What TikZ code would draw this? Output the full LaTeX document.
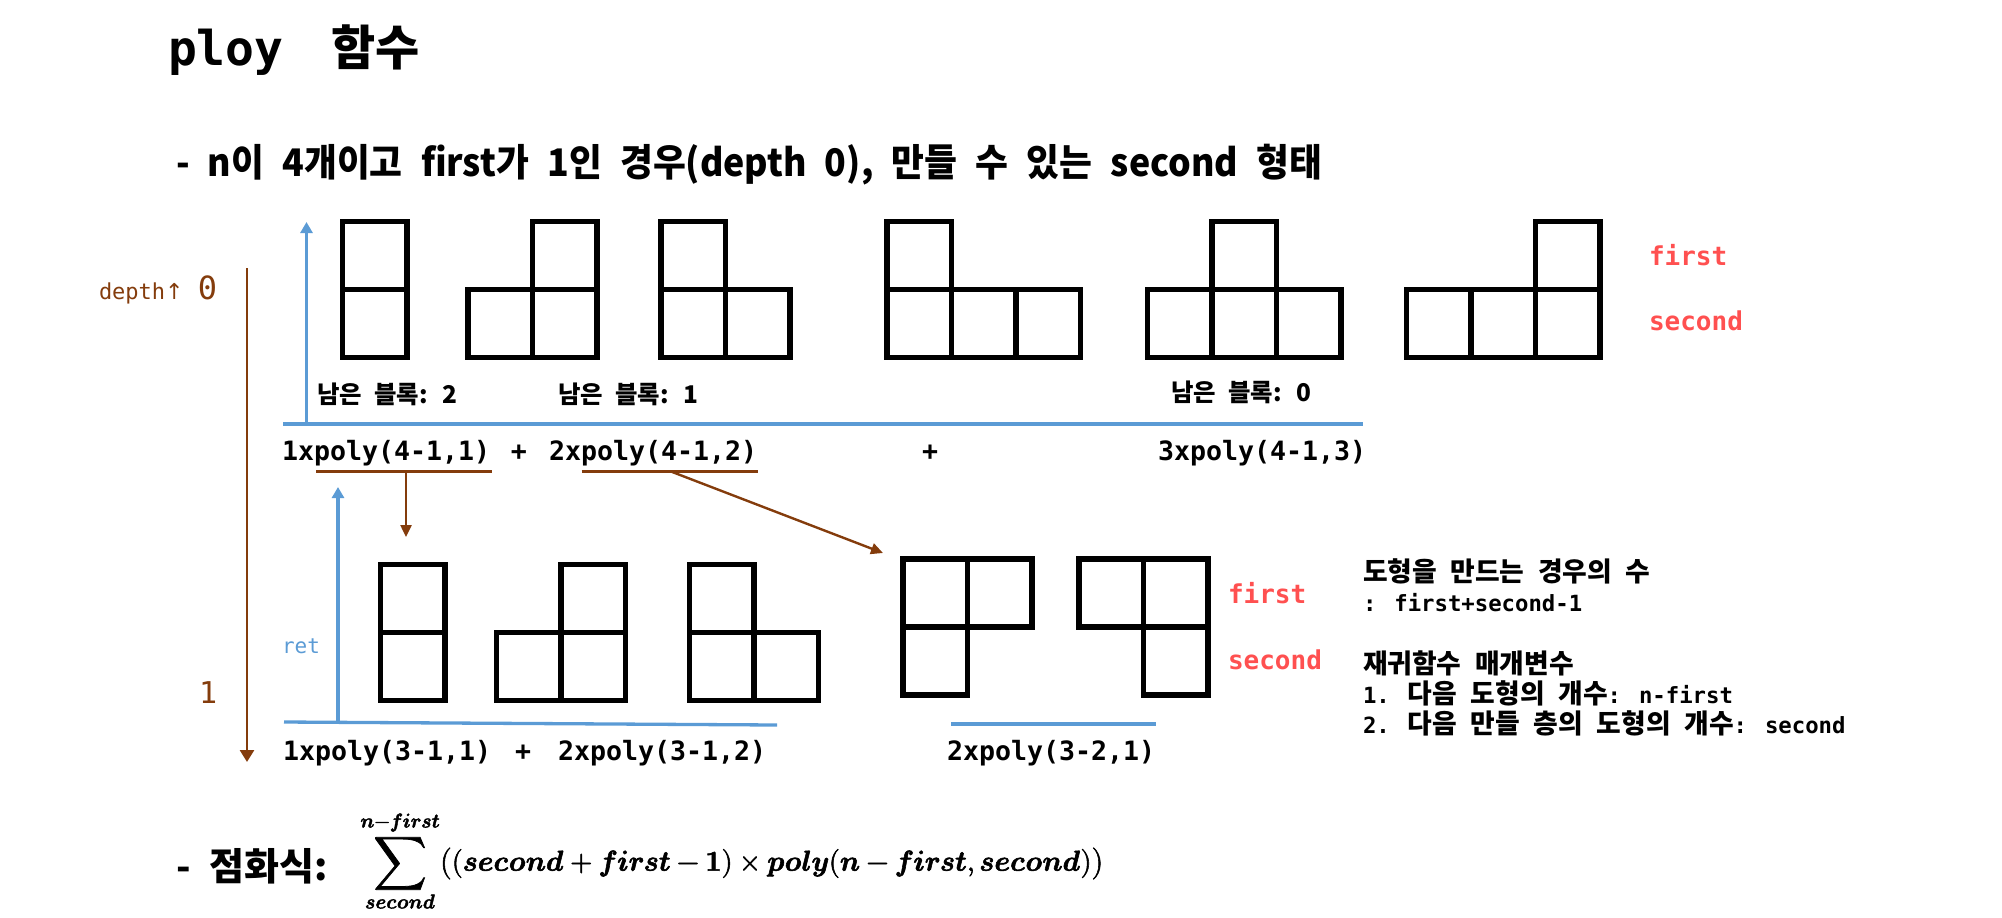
\documentclass[tikz,border=0pt]{standalone}
\usepackage{fontspec}
\usepackage{amsmath}
\usepackage{graphicx}
\usepackage{unicode-math}
\setmathfont{Latin Modern Math}[FakeBold=2]
\usetikzlibrary{arrows.meta}
\setmainfont{DejaVu Sans}
\newfontfamily\kr{Noto Sans CJK KR}
\newfontfamily\krm{Noto Sans CJK KR}[WordSpace=2.23]
\newfontfamily\mono{DejaVu Sans Mono}
\definecolor{brownc}{HTML}{843C0C}
\definecolor{bluec}{HTML}{5B9BD5}
\definecolor{redc}{HTML}{FF5050}
\newcommand{\fsz}[1]{\fontsize{#1}{#1}\selectfont}
\newcommand{\bi}[1]{\symbfit{#1}}
\newsavebox{\recbox}
\begin{document}
\sbox{\recbox}{\fsz{14.4}\scalebox{0.985}[1]{$\displaystyle
  \mathop{\vcenter{\hbox{\scalebox{1.3}{$\displaystyle\sum$}}}}\limits_{\bi{second}}^{\bi{n}-\bi{first}}
  \bigl((\bi{second}+\bi{first}-\symbf{1})\times\bi{poly}(\bi{n}-\bi{first},\bi{second})\bigr)$}}%
\begin{tikzpicture}[x=0.5pt,y=-0.5pt,
  txt/.style={inner sep=0pt, outer sep=0pt, anchor=base west},
  txtc/.style={inner sep=0pt, outer sep=0pt, anchor=base},
  cell/.style={draw=black, line width=2.75pt, minimum width=32.25pt, minimum height=34pt, inner sep=0pt, outer sep=0pt},
  blueline/.style={draw=bluec, line width=1.65pt},
  bluearrow/.style={draw=bluec, line width=1.65pt, -{Triangle[length=5.5pt,width=6pt]}},
  brownline/.style={draw=brownc, line width=1.5pt},
  depthtip/.style={draw=brownc, line width=1.35pt, -{Triangle[length=6pt,width=7pt]}},
  brownarrow/.style={draw=brownc, line width=1.2pt, -{Triangle[length=6pt,width=5.5pt]}},
  redlab/.style={txt, text=redc, font=\fsz{13}\mono\bfseries},
  poly/.style={txt, font=\fsz{13.3}\mono\bfseries},
  polyc/.style={txtc, font=\fsz{13.3}\mono\bfseries},
  remain/.style={txt, font=\fsz{12.2}\kr\bfseries},
]
\useasboundingbox (0,0) rectangle (2002,917);

% ---------- titles ----------
\node[txt] (title) at (168,65) {\fsz{24}\mono\bfseries ploy\hspace{24pt}{\kr\bfseries 함수}};
\node[txt] (sub) at (176,176) {\scalebox{0.94}[1]{\fsz{19}\kr\bfseries - n이 4개이고 first가 1인 경우(depth 0), 만들 수 있는 second 형태}};

% ---------- depth axis ----------
\node[txt, text=brownc] (depth0) at (99,299) {\fsz{11}\mono depth{\rmfamily ↑} \hspace{0.5pt}{\fsz{16}0}};
\node[txt, text=brownc] (depth1) at (199,703) {\fsz{15}\mono 1};
\coordinate (dtop) at (247,268);
\coordinate (dbot) at (247,762);
\draw[depthtip] (dtop) -- (dbot);

% ---------- row 0 shapes ----------
\node[cell] (a1t) at (374.75,255.7) {};
\node[cell] (a1b) at (374.75,323.7) {};
\node[cell] (a2b1) at (500.25,323.7) {};
\node[cell] (a2b2) at (564.75,323.7) {};
\node[cell] (a2t) at (564.75,255.7) {};
\node[cell] (a3b1) at (693.25,323.7) {};
\node[cell] (a3b2) at (757.75,323.7) {};
\node[cell] (a3t) at (693.25,255.7) {};
\node[cell] (a4b1) at (919.25,323.7) {};
\node[cell] (a4b2) at (983.75,323.7) {};
\node[cell] (a4b3) at (1048.25,323.7) {};
\node[cell] (a4t) at (919.25,255.7) {};
\node[cell] (a5b1) at (1179.75,323.7) {};
\node[cell] (a5b2) at (1244.25,323.7) {};
\node[cell] (a5b3) at (1308.75,323.7) {};
\node[cell] (a5t) at (1244.25,255.7) {};
\node[cell] (a6b1) at (1438.75,323.7) {};
\node[cell] (a6b2) at (1503.25,323.7) {};
\node[cell] (a6b3) at (1567.75,323.7) {};
\node[cell] (a6t) at (1567.75,255.7) {};

\node[redlab] (first0) at (1649,265) {first};
\node[redlab] (second0) at (1649,330) {second};

\node[remain] (rem2) at (317,403) {남은 블록: 2};
\node[remain] (rem1) at (558,403) {남은 블록: 1};
\node[remain] (rem0) at (1171,401) {남은 블록: 0};

% row 0 axes
\coordinate (h0l) at (283,424);
\coordinate (h0r) at (1363,424);
\coordinate (v0b) at (306.5,424);
\coordinate (v0t) at (306.5,222);
\draw[blueline] (h0l) -- (h0r);
\draw[bluearrow] (v0b) -- (v0t);

\node[poly] (p01) at (282,460) {1xpoly(4-1,1)};
\node[polyc] (plus01) at (519,460) {+};
\node[poly] (p02) at (549,460) {2xpoly(4-1,2)};
\node[polyc] (plus02) at (930,460) {+};
\node[poly] (p03) at (1158,460) {3xpoly(4-1,3)};

% brown underlines and arrows
\coordinate (u1l) at (316,471.5);
\coordinate (u1r) at (492,471.5);
\coordinate (u1m) at (406,471.5);
\coordinate (t1) at (406,537);
\coordinate (u2l) at (581.5,471.5);
\coordinate (u2r) at (757.5,471.5);
\coordinate (u2m) at (671,471.5);
\coordinate (t2) at (883,553);
\draw[brownline] (u1l) -- (u1r);
\draw[brownline] (u2l) -- (u2r);
\draw[brownarrow] (u1m) -- (t1);
\draw[brownarrow] (u2m) -- (t2);

% ---------- row 1 shapes ----------
\node[cell] (b1t) at (412.75,598.5) {};
\node[cell] (b1b) at (412.75,666.5) {};
\node[cell] (b2b1) at (528.75,666.5) {};
\node[cell] (b2b2) at (593.25,666.5) {};
\node[cell] (b2t) at (593.25,598.5) {};
\node[cell] (b3b1) at (721.75,666.5) {};
\node[cell] (b3b2) at (786.25,666.5) {};
\node[cell] (b3t) at (721.75,598.5) {};
\node[cell] (b4t1) at (935.25,593.2) {};
\node[cell] (b4t2) at (999.75,593.2) {};
\node[cell] (b4b) at (935.25,661.2) {};
\node[cell] (b5t1) at (1111.25,593.2) {};
\node[cell] (b5t2) at (1175.75,593.2) {};
\node[cell] (b5b) at (1175.75,661.2) {};

\node[redlab] (first1) at (1228,603) {first};
\node[redlab] (second1) at (1228,669) {second};

\node[txt, text=bluec] (ret) at (282,653) {\fsz{10.5}\mono ret};

% row 1 axes
\coordinate (h1l) at (284,722);
\coordinate (h1r) at (777,725);
\coordinate (v1b) at (338,722.5);
\coordinate (v1t) at (338,487);
\coordinate (h2l) at (951,724);
\coordinate (h2r) at (1156,724);
\draw[blueline] (h1l) -- (h1r);
\draw[blueline] (h2l) -- (h2r);
\draw[bluearrow] (v1b) -- (v1t);

\node[poly] (p11) at (283,760) {1xpoly(3-1,1)};
\node[polyc] (plus11) at (523,760) {+};
\node[poly] (p12) at (558,760) {2xpoly(3-1,2)};
\node[poly] (p13) at (947,760) {2xpoly(3-2,1)};

% ---------- explanation block ----------
\node[txt] (e1) at (1363,581) {\fsz{13.4}\krm\bfseries 도형을 만드는 경우의 수};
\node[txt] (e2) at (1363,611) {\fsz{11.15}\mono\bfseries : first+second-1};
\node[txt] (e3) at (1363,673) {\fsz{13.4}\krm\bfseries 재귀함수 매개변수};
\node[txt] (e4) at (1363,703) {\bfseries{\fsz{11.15}\mono 1. }{\fsz{13.4}\krm 다음 도형의 개수}{\fsz{11.15}\mono : n-first}};
\node[txt] (e5) at (1363,733) {\bfseries{\fsz{11.15}\mono 2. }{\fsz{13.4}\krm 다음 만들 층의 도형의 개수}{\fsz{11.15}\mono : second}};

% ---------- recurrence ----------
\node[txt] (rec) at (176,880) {\fsz{19}\kr\bfseries - 점화식:};
\node[inner sep=0pt, anchor=west] (formula) at (360,861) {\usebox{\recbox}};
\end{tikzpicture}
\end{document}
